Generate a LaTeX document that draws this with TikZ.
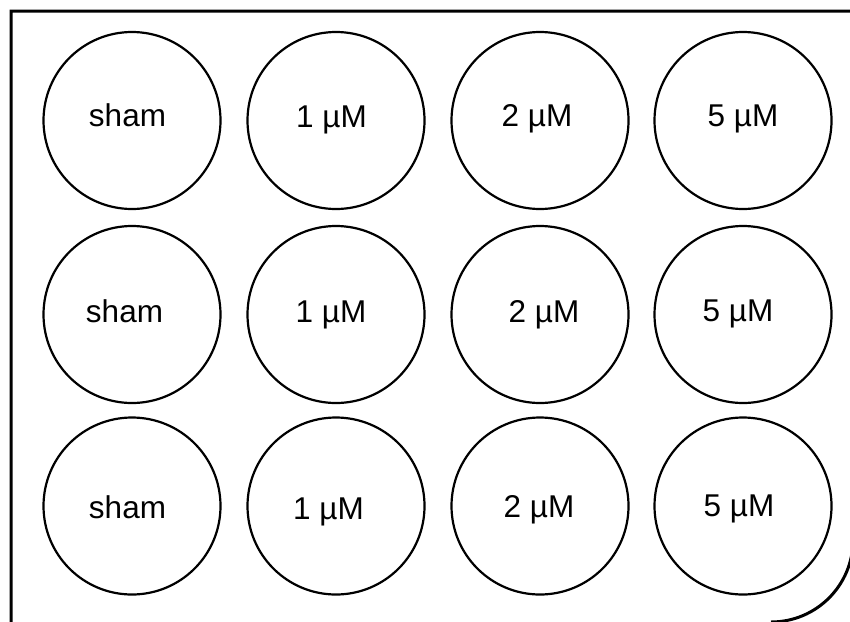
\documentclass[tikz,border=0pt]{standalone}
\usepackage{fontspec}
\setmainfont{Liberation Sans}
\tikzset{
  plate/.style={line width=3pt,draw=black},
  well/.style={line width=2.2pt,draw=black,fill=white},
  dose/.style={anchor=base,inner sep=0pt,font=\fontsize{31.5}{38}\selectfont}
}

\begin{document}
\begin{tikzpicture}[x=1pt,y=-1pt]
\useasboundingbox (0,0) rectangle (850,621);

\coordinate (A1) at (132,120.5);
\coordinate (A2) at (336,120.5);
\coordinate (A3) at (540,120.5);
\coordinate (A4) at (743,120.5);
\coordinate (B1) at (132,314.5);
\coordinate (B2) at (336,314.5);
\coordinate (B3) at (540,314.5);
\coordinate (B4) at (743,314.5);
\coordinate (C1) at (132,506);
\coordinate (C2) at (336,506);
\coordinate (C3) at (540,506);
\coordinate (C4) at (743,506);

\draw[plate] (11,640) -- (11,11) -- (853,11) -- (853,540)
  arc[start angle=0,end angle=90,radius=82];

\draw[well] (A1) circle[radius=88.5];
\draw[well] (A2) circle[radius=88.5];
\draw[well] (A3) circle[radius=88.5];
\draw[well] (A4) circle[radius=88.5];
\draw[well] (B1) circle[radius=88.5];
\draw[well] (B2) circle[radius=88.5];
\draw[well] (B3) circle[radius=88.5];
\draw[well] (B4) circle[radius=88.5];
\draw[well] (C1) circle[radius=88.5];
\draw[well] (C2) circle[radius=88.5];
\draw[well] (C3) circle[radius=88.5];
\draw[well] (C4) circle[radius=88.5];

\node[dose] (shamA) at (127.5,126.5) {sham};
\node[dose] (oneA) at (331.5,127) {1 µM};
\node[dose] (twoA) at (537,126.5) {2 µM};
\node[dose] (fiveA) at (743,126.5) {5 µM};
\node[dose] (shamB) at (124.5,322) {sham};
\node[dose] (oneB) at (331,322) {1 µM};
\node[dose] (twoB) at (544,322.5) {2 µM};
\node[dose] (fiveB) at (738,321.5) {5 µM};
\node[dose] (shamC) at (127.5,518) {sham};
\node[dose] (oneC) at (328.5,519) {1 µM};
\node[dose] (twoC) at (539,517) {2 µM};
\node[dose] (fiveC) at (739,516.5) {5 µM};

\end{tikzpicture}
\end{document}
